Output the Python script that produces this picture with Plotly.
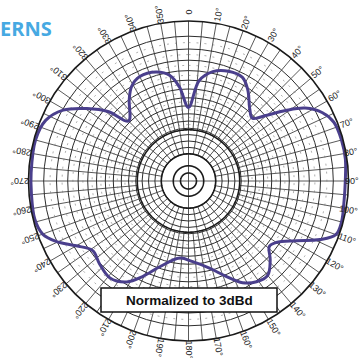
import numpy as np
import plotly.graph_objects as go

# Pattern (angle in degrees clockwise from top, normalized radius 0..1)
pattern_angle = [0, 6, 12.5, 20, 27.5, 33, 40.5, 45.5, 50, 54, 58, 63, 68, 75, 82, 90,
                 97, 105, 110, 114, 119, 125, 129, 134, 140, 146, 152, 158.5, 166.5, 177,
                 186.5, 198.5, 205.5, 211.5, 219, 227, 234, 240, 245.5, 250, 256, 265.5,
                 273, 285, 293, 299.5, 305.5, 311, 315, 324, 329, 335, 343.5, 350, 354.5, 360]
pattern_r = [0.46, 0.63, 0.70, 0.73, 0.73, 0.68, 0.59, 0.56, 0.64, 0.75, 0.86, 0.94, 0.98, 0.99, 0.99, 0.98,
             0.98, 0.99, 0.98, 0.90, 0.77, 0.67, 0.65, 0.71, 0.77, 0.76, 0.72, 0.64, 0.56, 0.505,
             0.485, 0.565, 0.66, 0.74, 0.78, 0.76, 0.74, 0.81, 0.91, 0.97, 0.99, 0.985,
             0.985, 0.99, 0.97, 0.90, 0.78, 0.66, 0.53, 0.63, 0.69, 0.72, 0.71, 0.67, 0.59, 0.46]

ring_r = [0.17, 0.21, 0.25, 0.29, 0.33, 0.375, 0.42, 0.47, 0.52, 0.575, 0.63, 0.69, 0.755, 0.825, 0.905]
bold_ring_r = [0.05, 0.095, 0.17, 0.32]
label_angles = list(range(0, 360, 10))
label_text = ["0" if a == 0 else f"{a}°" for a in label_angles]

W, H = 361, 358
CX, CY, R = 188.5, 181, 160

grid_col = "#2e2e2e"
fig = go.Figure()

# spokes (grid)
for a in range(0, 360, 5):
    r0 = 0.17 if a % 10 == 0 else 0.32
    if a % 90 == 0:
        r0 = 0.0
    fig.add_trace(go.Scatterpolar(r=[r0, 1], theta=[a, a], mode="lines",
                                  line=dict(color=grid_col, width=0.8),
                                  hoverinfo="skip", showlegend=False))
# dashed mid rings
th = np.linspace(0, 360, 361)
for i in range(len(ring_r) - 1):
    rm = (ring_r[i] + ring_r[i + 1]) / 2
    if rm > 0.35:
        fig.add_trace(go.Scatterpolar(r=[rm] * len(th), theta=th, mode="lines",
                                      line=dict(color="#777", width=0.6, dash="2px,6px"),
                                      hoverinfo="skip", showlegend=False))
for rb in bold_ring_r:
    fig.add_trace(go.Scatterpolar(r=[rb] * len(th), theta=th, mode="lines",
                                  line=dict(color="#1a1a1a", width=1.6),
                                  hoverinfo="skip", showlegend=False))

fig.add_trace(go.Scatterpolar(r=pattern_r, theta=pattern_angle, mode="lines",
                              line=dict(color="#4a3f8c", width=3, shape="spline", smoothing=1.0),
                              hoverinfo="skip", showlegend=False))

fig.update_layout(
    width=W, height=H, margin=dict(l=0, r=0, t=0, b=0),
    paper_bgcolor="white", plot_bgcolor="white",
    polar=dict(
        domain=dict(x=[(CX - R) / W, (CX + R) / W], y=[1 - (CY + R) / H, 1 - (CY - R) / H]),
        bgcolor="white",
        radialaxis=dict(range=[0, 1], tickvals=ring_r, showticklabels=False, ticks="",
                        showline=False, gridcolor=grid_col, gridwidth=0.9),
        angularaxis=dict(rotation=90, direction="clockwise", showgrid=False,
                         showticklabels=False, ticks="", showline=True,
                         linecolor="#1a1a1a", linewidth=1.6),
    ),
)

annotations = []
for a, t in zip(label_angles, label_text):
    rad = np.deg2rad(a)
    rr = R + 9
    px = CX + rr * np.sin(rad)
    py = CY - rr * np.cos(rad)
    tw = 5.2 * len(t)
    ang = np.deg2rad(a - 90)
    half = (abs(tw * np.cos(ang)) + abs(11 * np.sin(ang))) / 2
    px = min(px, W - 1 - half)
    px = max(px, 1 + half)
    annotations.append(dict(x=px / W, y=1 - py / H, xref="paper", yref="paper",
                            text=t, showarrow=False, textangle=a - 90,
                            font=dict(family="Liberation Sans", size=9, color="#222"),
                            xanchor="center", yanchor="middle"))
annotations.append(dict(x=-2 / W, y=1 - 28 / H, xref="paper", yref="paper", text="<b>ERNS</b>",
                        showarrow=False, xanchor="left", yanchor="middle",
                        font=dict(family="Open Sans", size=20, color="#46a9e2")))
annotations.append(dict(x=189 / W, y=1 - 300 / H, xref="paper", yref="paper",
                        text="<b>Normalized to 3dBd</b>", showarrow=False,
                        xanchor="center", yanchor="middle",
                        font=dict(family="Liberation Sans", size=13.5, color="#111")))
fig.update_layout(annotations=annotations)
fig.add_shape(type="rect", xref="paper", yref="paper",
              x0=101 / W, x1=277 / W, y0=1 - 312 / H, y1=1 - 288 / H,
              fillcolor="white", line=dict(color="#111", width=1.5), layer="above")
fig.write_html("out.html")
